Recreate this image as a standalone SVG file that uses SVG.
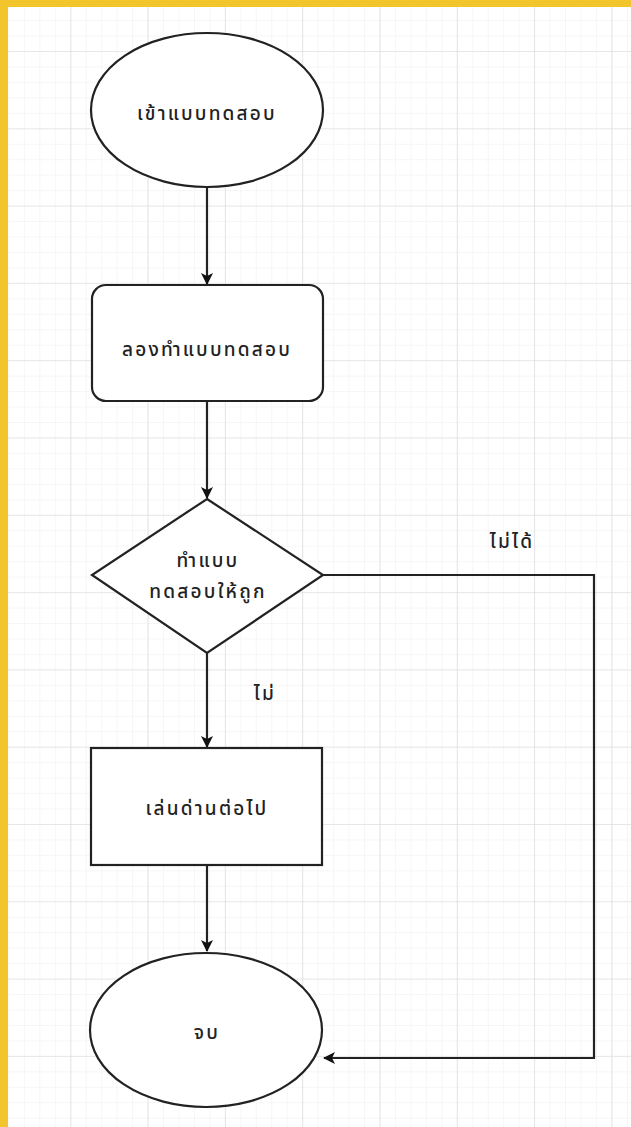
<svg xmlns="http://www.w3.org/2000/svg" width="631" height="1127" viewBox="0 0 631 1127">
<style>
.shape{fill:#ffffff;stroke:#222222;stroke-width:2.2}
.edge{fill:none;stroke:#222222;stroke-width:2.2}
.lbl{font-family:"Noto Sans Thai","Tahoma","Noto Sans","DejaVu Sans",sans-serif;font-size:19px;font-weight:500;letter-spacing:2.2px;fill:#222222;text-anchor:middle}
</style>
<defs>
<pattern id="minor" x="70.3" y="51" width="15.46" height="15.46" patternUnits="userSpaceOnUse">
<path d="M0 0V15.46M0 0H15.46" fill="none" stroke="#eeeeee" stroke-width="1"/>
</pattern>
<pattern id="major" x="70.3" y="51" width="77.3" height="77.3" patternUnits="userSpaceOnUse">
<path d="M0 0V77.3M0 0H77.3" fill="none" stroke="#d8d8d8" stroke-width="1.2"/>
</pattern>
<marker id="arr" viewBox="0 0 12 12" refX="11" refY="6" markerWidth="12" markerHeight="12" markerUnits="userSpaceOnUse" orient="auto">
<path d="M0 0L12 6L0 12L3 6Z" fill="#111111"/>
</marker>
</defs>
<rect width="631" height="1127" fill="#f3c52c"/>
<rect x="8" y="7" width="623" height="1120" fill="#ffffff"/>
<rect x="8" y="7" width="623" height="1120" fill="url(#minor)"/>
<rect x="8" y="7" width="623" height="1120" fill="url(#major)"/>
<g id="connectors">
<path class="edge" d="M207 187V284" marker-end="url(#arr)"/>
<path class="edge" d="M207 401V498" marker-end="url(#arr)"/>
<path class="edge" d="M207 653V747" marker-end="url(#arr)"/>
<path class="edge" d="M207 866V951" marker-end="url(#arr)"/>
<path class="edge" d="M323 575H594V1058H324" marker-end="url(#arr)"/>
<text class="lbl" x="512" y="548">ไม่ได้</text>
<text class="lbl" x="265" y="700">ไม่</text>
</g>
<g id="start">
<ellipse class="shape" cx="207" cy="110" rx="116" ry="77"/>
<text class="lbl" x="207" y="120">เข้าแบบทดสอบ</text>
</g>
<g id="try">
<rect class="shape" x="92" y="285" width="231" height="116" rx="14"/>
<text class="lbl" x="207" y="356">ลองทำแบบทดสอบ</text>
</g>
<g id="decision">
<path class="shape" d="M207 499L323 575L207 653L92 575Z"/>
<text class="lbl" x="208" y="567">ทำแบบ</text>
<text class="lbl" x="208" y="598">ทดสอบให้ถูก</text>
</g>
<g id="next">
<rect class="shape" x="91" y="748" width="231" height="117"/>
<text class="lbl" x="207" y="815">เล่นด่านต่อไป</text>
</g>
<g id="end">
<ellipse class="shape" cx="206" cy="1030" rx="116" ry="77"/>
<text class="lbl" x="207" y="1039">จบ</text>
</g>
</svg>
